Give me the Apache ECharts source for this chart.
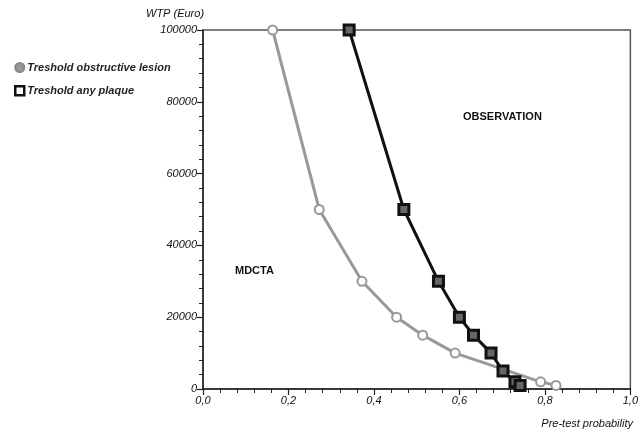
<!DOCTYPE html>
<html>
<head>
<meta charset="utf-8">
<script src="https://cdn.jsdelivr.net/npm/echarts@6/dist/echarts.min.js"></script>
<style>
  html, body { margin: 0; padding: 0; background: #fff; }
  #chart { width: 641px; height: 434px; }
</style>
</head>
<body>
<div id="chart"></div>
<script>
// WTP thresholds (Euro) vs pre-test probability
var lesionX = [0.163, 0.272, 0.372, 0.453, 0.514, 0.59, 0.79, 0.826];
var lesionY = [100000, 50000, 30000, 20000, 15000, 10000, 2000, 1000];
var plaqueX = [0.342, 0.47, 0.551, 0.6, 0.633, 0.674, 0.702, 0.73, 0.742];
var plaqueY = [100000, 50000, 30000, 20000, 15000, 10000, 5000, 2000, 1000];
var seriesNames = ['Treshold obstructive lesion', 'Treshold any plaque'];

function pairs(xs, ys) {
  return xs.map(function (x, i) { return [x, ys[i]]; });
}

var fontFam = 'Liberation Sans, Arial, sans-serif';
var txt = { fontFamily: fontFam, fontStyle: 'italic', fontSize: 11, color: '#111' };

var myChart = echarts.init(document.getElementById('chart'));
var option = {
  animation: false,
  backgroundColor: '#fff',
  grid: {
    left: 203, right: 8, top: 30, bottom: 45,
    show: true, borderColor: '#555', borderWidth: 1.5
  },
  legend: {
    orient: 'vertical',
    left: 9, top: 57,
    itemWidth: 9, itemHeight: 9, itemGap: 12,
    textStyle: { fontFamily: fontFam, fontStyle: 'italic', fontWeight: 'bold', fontSize: 11, color: '#222', padding: [0, 0, 0, -2] },
    data: [
      { name: seriesNames[0], icon: 'circle', itemStyle: { color: '#999', borderColor: '#888', borderWidth: 2 } },
      { name: seriesNames[1], icon: 'rect', itemStyle: { color: '#fff', borderColor: '#111', borderWidth: 2.5 } }
    ]
  },
  xAxis: {
    type: 'value', min: 0, max: 1, interval: 0.2,
    axisLine: { lineStyle: { color: '#222', width: 1.5 } },
    axisTick: { length: 6, lineStyle: { color: '#222', width: 1.2 } },
    minorTick: { show: true, splitNumber: 5, length: 4, lineStyle: { color: '#222', width: 1 } },
    splitLine: { show: false },
    axisLabel: Object.assign({ margin: 6, formatter: function (v) { return v.toFixed(1).replace('.', ','); } }, txt)
  },
  yAxis: {
    type: 'value', min: 0, max: 100000, interval: 20000,
    axisLine: { lineStyle: { color: '#222', width: 1.5 } },
    axisTick: { length: 6, lineStyle: { color: '#222', width: 1.2 } },
    minorTick: { show: true, splitNumber: 5, length: 4, lineStyle: { color: '#222', width: 1 } },
    splitLine: { show: false },
    axisLabel: Object.assign({ margin: 6, formatter: function (v) { return String(v); } }, txt)
  },
  graphic: [
    { type: 'text', left: 146, top: 8, style: { text: 'WTP (Euro)', font: 'italic 11px ' + fontFam, fill: '#111' } },
    { type: 'text', right: 8, top: 418, style: { text: 'Pre-test probability', font: 'italic 11px ' + fontFam, fill: '#111' } },
    { type: 'text', left: 235, top: 265, style: { text: 'MDCTA', font: 'bold 11px ' + fontFam, fill: '#111' } },
    { type: 'text', left: 463, top: 111, style: { text: 'OBSERVATION', font: 'bold 11px ' + fontFam, fill: '#111' } }
  ],
  series: [
    {
      name: seriesNames[0], type: 'line',
      data: pairs(lesionX, lesionY),
      symbol: 'circle', symbolSize: 9,
      lineStyle: { color: '#999', width: 3 },
      itemStyle: { color: '#fff', borderColor: '#999', borderWidth: 2 },
      z: 2
    },
    {
      name: seriesNames[1], type: 'line',
      data: pairs(plaqueX, plaqueY),
      symbol: 'rect', symbolSize: 10,
      lineStyle: { color: '#111', width: 3 },
      itemStyle: { color: '#666', borderColor: '#111', borderWidth: 3 },
      z: 3
    }
  ]
};
myChart.setOption(option);
</script>
</body>
</html>
